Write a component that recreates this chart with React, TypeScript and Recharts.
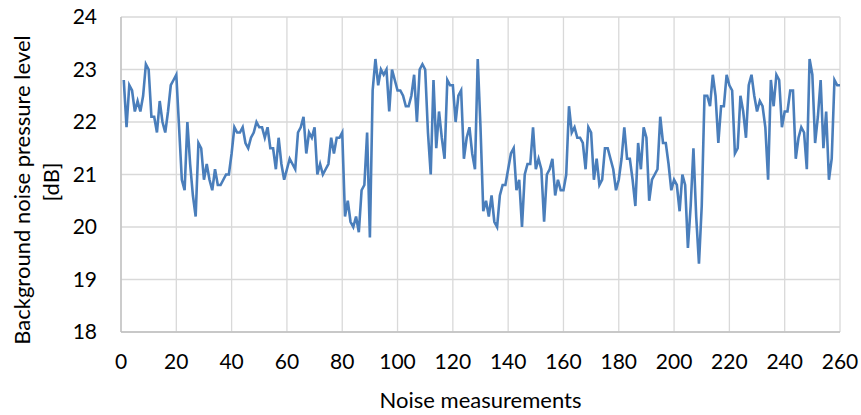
import { LineChart, Line, XAxis, YAxis, CartesianGrid, Label } from "recharts";

// background noise level for each measurement (1..260), dB
const noiseLevels = [
  22.8, 21.9, 22.7, 22.6, 22.2, 22.4, 22.2, 22.5, 23.1, 23.0,
  22.1, 22.1, 21.8, 22.4, 22.0, 21.8, 22.2, 22.7, 22.8, 22.9,
  21.9, 20.9, 20.7, 22.0, 21.2, 20.6, 20.2, 21.6, 21.5, 20.9,
  21.2, 20.9, 20.7, 21.1, 20.8, 20.8, 20.9, 21.0, 21.0, 21.4,
  21.9, 21.8, 21.8, 21.9, 21.6, 21.5, 21.7, 21.8, 22.0, 21.9,
  21.9, 21.7, 21.9, 21.5, 21.5, 21.1, 21.7, 21.2, 20.9, 21.1,
  21.3, 21.2, 21.1, 21.8, 21.9, 22.1, 21.4, 21.8, 21.7, 21.9,
  21.0, 21.2, 21.0, 21.1, 21.2, 21.7, 21.4, 21.7, 21.7, 21.8,
  20.2, 20.5, 20.1, 20.0, 20.2, 19.9, 20.7, 20.8, 21.8, 19.8,
  22.6, 23.2, 22.7, 23.0, 22.9, 23.0, 22.2, 23.0, 22.8, 22.6,
  22.6, 22.5, 22.3, 22.3, 22.5, 22.9, 22.0, 23.0, 23.1, 23.0,
  21.8, 21.0, 22.8, 21.5, 22.2, 21.7, 21.3, 22.8, 22.7, 22.7,
  22.0, 22.5, 22.6, 21.3, 21.7, 21.9, 21.4, 21.1, 23.2, 21.9,
  20.3, 20.5, 20.2, 20.6, 20.1, 20.0, 20.6, 20.8, 20.8, 21.1,
  21.4, 21.5, 20.7, 20.9, 20.0, 21.0, 21.2, 21.2, 21.9, 21.1,
  21.3, 21.1, 20.1, 21.0, 21.1, 21.3, 20.6, 20.9, 20.7, 20.7,
  21.0, 22.3, 21.8, 21.9, 21.7, 21.7, 21.6, 21.1, 21.9, 21.8,
  20.9, 21.3, 20.8, 20.9, 21.5, 21.5, 21.3, 21.1, 20.7, 20.9,
  21.3, 21.9, 21.3, 21.3, 20.9, 20.4, 21.6, 21.1, 21.9, 21.7,
  20.5, 20.9, 21.0, 21.1, 22.1, 21.6, 21.6, 21.2, 20.7, 20.9,
  20.8, 20.3, 21.0, 20.8, 19.6, 20.4, 21.5, 20.2, 19.3, 20.4,
  22.5, 22.5, 22.3, 22.9, 22.5, 21.6, 22.3, 22.3, 22.9, 22.7,
  22.6, 21.4, 21.5, 22.5, 22.2, 21.7, 22.7, 22.9, 22.5, 22.2,
  22.4, 22.3, 21.9, 20.9, 22.8, 22.3, 22.9, 22.8, 21.9, 22.2,
  22.2, 22.6, 22.6, 21.3, 21.7, 21.9, 21.8, 21.1, 23.2, 22.9,
  21.6, 22.1, 22.8, 21.5, 22.2, 20.9, 21.3, 22.8, 22.7, 22.7,
];

const xTicks = [0, 20, 40, 60, 80, 100, 120, 140, 160, 180, 200, 220, 240, 260];
const yTicks = [18, 19, 20, 21, 22, 23, 24];

const data = noiseLevels.map((level, i) => ({ n: i + 1, level }));

const FONT = "Lato, 'Noto Sans', sans-serif";

const YTitle = () => (
  <g fontFamily={FONT} fontSize={22} fill="#000">
    <text transform="translate(30,190) rotate(-90)" textAnchor="middle">
      Background noise pressure level
    </text>
    <text transform="translate(59,182) rotate(-90)" textAnchor="middle">
      [dB]
    </text>
  </g>
);

export default function App() {
  return (
    <div style={{ position: "absolute", left: 0, top: 0, width: 861, height: 415, background: "#fff", fontFamily: FONT }}>
      <LineChart width={861} height={415} data={data} margin={{ top: 17, right: 21, bottom: 0, left: 61 }}>
        <CartesianGrid stroke="#d9d9d9" strokeWidth={1.3} />
        <XAxis
          dataKey="n"
          type="number"
          domain={[0, 260]}
          ticks={xTicks}
          interval={0}
          height={83}
          tickLine={false}
          tickMargin={16}
          axisLine={{ stroke: "#bfbfbf", strokeWidth: 1.3 }}
          tick={{ fill: "#000", fontSize: 21, fontFamily: FONT }}
        >
          <Label value="Noise measurements" position="insideBottom" offset={7} fill="#000" fontSize={22} fontFamily={FONT} />
        </XAxis>
        <YAxis
          type="number"
          domain={[18, 24]}
          ticks={yTicks}
          interval={0}
          width={60}
          tickLine={false}
          tickMargin={18}
          axisLine={{ stroke: "#bfbfbf", strokeWidth: 1.3 }}
          tick={{ fill: "#000", fontSize: 21, fontFamily: FONT }}
        >
          <Label content={YTitle} />
        </YAxis>
        <Line
          type="linear"
          dataKey="level"
          stroke="#4a7ebb"
          strokeWidth={2.6}
          dot={false}
          isAnimationActive={false}
        />
      </LineChart>
    </div>
  );
}
